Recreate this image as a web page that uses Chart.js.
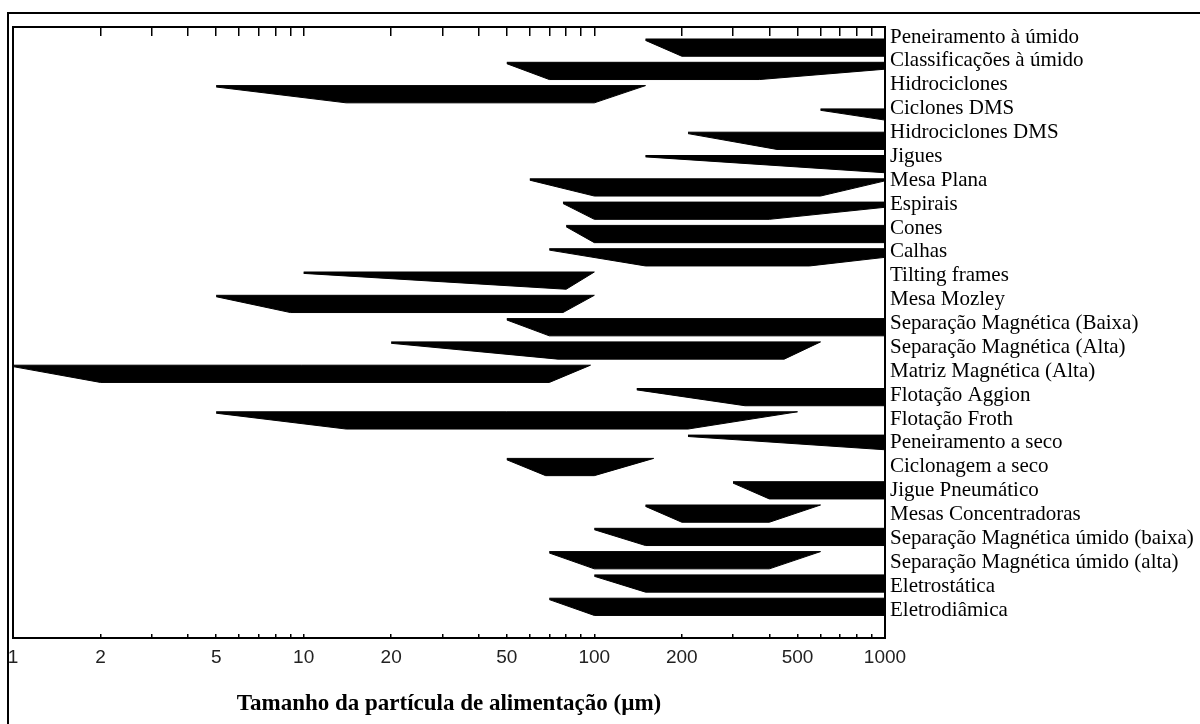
<!DOCTYPE html>
<html lang="pt">
<head>
<meta charset="utf-8">
<title>Faixa de aplicação dos processos</title>
<script src="https://cdn.jsdelivr.net/npm/chart.js@4.4.1/dist/chart.umd.min.js"></script>
<style>
  html, body { margin: 0; padding: 0; background: #fff; overflow: hidden; }
  #wrap { position: relative; width: 1200px; height: 724px; }
  #frame { position: absolute; left: 7px; top: 12px; width: 1210px; height: 730px;
           border-top: 2px solid #000; border-left: 2px solid #000; pointer-events: none; }
</style>
</head>
<body>
<div id="wrap">
  <canvas id="chart" width="1200" height="724"></canvas>
  <div id="frame"></div>
</div>
<script>
// processos (de cima para baixo)
const processes = [
  'Peneiramento à úmido', 'Classificações à úmido', 'Hidrociclones', 'Ciclones DMS',
  'Hidrociclones DMS', 'Jigues', 'Mesa Plana', 'Espirais', 'Cones', 'Calhas',
  'Tilting frames', 'Mesa Mozley', 'Separação Magnética (Baixa)', 'Separação Magnética (Alta)',
  'Matriz Magnética (Alta)', 'Flotação Aggion', 'Flotação Froth', 'Peneiramento a seco',
  'Ciclonagem a seco', 'Jigue Pneumático', 'Mesas Concentradoras',
  'Separação Magnética úmido (baixa)', 'Separação Magnética úmido (alta)',
  'Eletrostática', 'Eletrodiâmica'
];

// tamanho (µm) onde a faixa começa, fica cheia, deixa de ser cheia e termina
const sizeStart = [150, 50, 5, 600, 210, 150, 60, 78, 80, 70, 10, 5, 50, 20, 1, 140, 5, 210, 50, 300, 150, 100, 70, 100, 70];
const fullFrom  = [200, 70, 14, null, 425, null, 100, 100, 100, 150, 80, 9, 70, 75, 2, 330, 14, null, 68, 400, 200, 150, 100, 150, 100];
const fullTo    = [1000, 370, 100, null, 1000, null, 600, 400, 1000, 550, 80, 78, 1000, 450, 70, 1000, 210, null, 100, 1000, 400, 1000, 400, 1000, 1000];
const sizeEnd   = [1000, 1000, 150, 1000, 1000, 1000, 1000, 1000, 1000, 1000, 100, 100, 1000, 600, 97, 1000, 500, 1000, 160, 1000, 600, 1000, 600, 1000, 1000];
// espessura relativa na ponta direita
const endDepth  = [1, 0.4, 0, 0.65, 1, 1, 0.12, 0.3, 1, 0.5, 0, 0, 1, 0, 0, 1, 0, 0.85, 0, 1, 0, 1, 0, 1, 1];

const xTickValues = [1, 2, 3, 4, 5, 6, 7, 8, 9, 10, 20, 30, 40, 50, 60, 70, 80, 90,
                     100, 200, 300, 400, 500, 600, 700, 800, 900, 1000];
const xTickLabels = [1, 2, 5, 10, 20, 50, 100, 200, 500, 1000];

const BAND = 0.74;

function shapePoints(i) {
  const top = i - BAND / 2;
  const bot = i + BAND / 2;
  const pts = [
    { x: sizeStart[i], y: top },
    { x: sizeEnd[i], y: top },
    { x: sizeEnd[i], y: top + endDepth[i] * BAND }
  ];
  if (fullTo[i] !== null) {
    pts.push({ x: fullTo[i], y: bot }, { x: fullFrom[i], y: bot });
  }
  pts.push({ x: sizeStart[i], y: top + 0.06 });
  return pts;
}

const datasets = processes.map((name, i) => ({
  label: name,
  data: shapePoints(i),
  xAxisID: 'x',
  yAxisID: 'y',
  borderColor: '#000',
  backgroundColor: '#000',
  borderWidth: 1,
  pointRadius: 0,
  tension: 0,
  fill: 'shape'
}));

const logTicks = (scale) => { scale.ticks = xTickValues.map(v => ({ value: v })); };

new Chart(document.getElementById('chart').getContext('2d'), {
  type: 'line',
  data: { datasets },
  options: {
    responsive: false,
    animation: false,
    layout: { padding: 0 },
    plugins: { legend: { display: false }, tooltip: { enabled: false } },
    scales: {
      x: {
        type: 'logarithmic',
        position: 'bottom',
        min: 1,
        max: 1000,
        afterBuildTicks: logTicks,
        afterFit: (scale) => { scale.height = 86; scale.paddingLeft = 0; scale.paddingRight = 0; },
        border: { display: true, color: '#000', width: 2 },
        grid: { drawOnChartArea: false, drawTicks: true, tickLength: -4, color: '#000', lineWidth: 1.5 },
        ticks: {
          autoSkip: false,
          maxRotation: 0,
          padding: 12,
          color: '#222',
          font: { family: 'Liberation Sans', size: 19 },
          callback: (v) => xTickLabels.includes(v) ? String(v) : ''
        },
        title: {
          display: true,
          text: 'Tamanho da partícula de alimentação (µm)',
          color: '#000',
          font: { family: 'Liberation Serif', size: 23, weight: 'bold' },
          padding: { top: 0, bottom: 6 }
        }
      },
      xTop: {
        type: 'logarithmic',
        position: 'top',
        min: 1,
        max: 1000,
        afterBuildTicks: logTicks,
        afterFit: (scale) => { scale.height = 27; scale.paddingLeft = 0; scale.paddingRight = 0; },
        border: { display: true, color: '#000', width: 2 },
        grid: { drawOnChartArea: false, drawTicks: true, tickLength: -9, color: '#000', lineWidth: 1.5 },
        ticks: { display: false }
      },
      y: {
        type: 'linear',
        position: 'left',
        reverse: true,
        min: -0.885,
        max: 25.338,
        afterFit: (scale) => { scale.width = 13; },
        border: { display: true, color: '#000', width: 2 },
        grid: { display: false, drawTicks: false },
        ticks: { display: false }
      },
      yLab: {
        type: 'linear',
        position: 'right',
        reverse: true,
        min: -0.419,
        max: 25.17,
        afterBuildTicks: (scale) => { scale.ticks = processes.map((_, i) => ({ value: i })); },
        afterFit: (scale) => { scale.width = 315; scale.paddingTop = 0; scale.paddingBottom = 0; },
        border: { display: true, color: '#000', width: 2 },
        grid: { display: false, drawTicks: false },
        ticks: {
          autoSkip: false,
          padding: 5,
          color: '#000',
          font: { family: 'Liberation Serif', size: 21 },
          callback: (v) => processes[v] ?? ''
        }
      }
    }
  }
});
</script>
</body>
</html>
